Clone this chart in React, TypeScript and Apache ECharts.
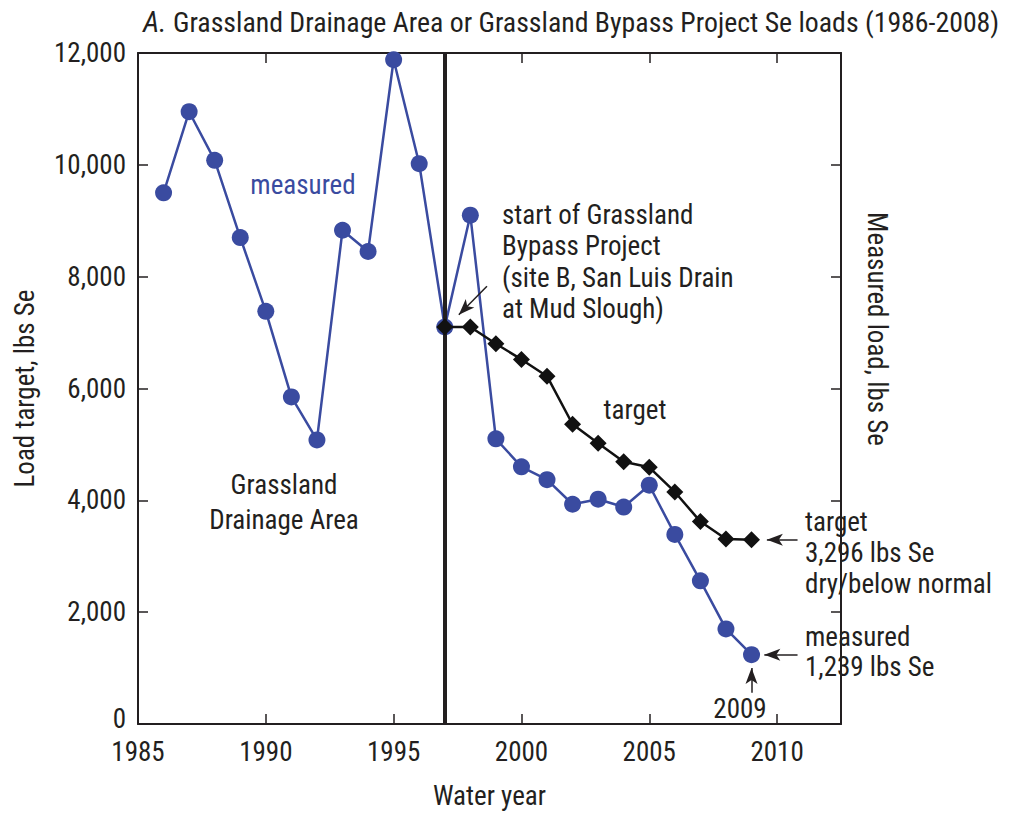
import React, { useEffect, useRef } from "react";
import * as echarts from "echarts";

const FONT = '"Liberation Sans Narrow", "Roboto Condensed", Roboto, sans-serif';
const BLUE = "#3a4ba0";
const INK = "#231f20";

const measuredYears = [1986, 1987, 1988, 1989, 1990, 1991, 1992, 1993, 1994, 1995, 1996, 1997, 1998, 1999, 2000, 2001, 2002, 2003, 2004, 2005, 2006, 2007, 2008, 2009];
const measuredLoads = [9500, 10950, 10080, 8700, 7380, 5850, 5080, 8830, 8450, 11880, 10020, 7100, 9100, 5100, 4600, 4370, 3930, 4020, 3880, 4270, 3390, 2560, 1700, 1239];
const targetYears = [1997, 1998, 1999, 2000, 2001, 2002, 2003, 2004, 2005, 2006, 2007, 2008, 2009];
const targetLoads = [7100, 7100, 6800, 6520, 6220, 5360, 5020, 4690, 4590, 4150, 3620, 3310, 3296];
const projectStartYear = 1997;

export default function App() {
  const ref = useRef<HTMLDivElement>(null);
  useEffect(() => {
    if (!ref.current) return;
    const chart = echarts.init(ref.current, null, { renderer: "svg" });
    const axisLine = () => ({ show: true, onZero: false, lineStyle: { color: INK, width: 2 } });
    const tick = () => ({ show: true, inside: true, length: 10, lineStyle: { color: INK, width: 1.5 } });
    const txt = (x: number, y: number, text: string, align: string, color = INK, lh = 31) => ({
      type: "text",
      x,
      y,
      style: { text, fill: color, font: `27px ${FONT}`, textAlign: align, textVerticalAlign: "top", lineHeight: lh },
    });
    const arrow = (a: number[], b: number[]) => [
      { coord: a, symbol: "none" },
      { coord: b, symbol: "arrow", symbolSize: [9, 16] },
    ];
    chart.setOption({
      animation: false,
      backgroundColor: "#ffffff",
      grid: { left: 138, right: 170, top: 53, bottom: 90 },
      xAxis: [
        {
          type: "value",
          position: "bottom",
          min: 1985,
          max: 2012.5,
          interval: 5,
          axisLine: axisLine(),
          axisTick: tick(),
          splitLine: { show: false },
          axisLabel: {
            fontFamily: FONT,
            fontSize: 27,
            color: INK,
            margin: 14,
            formatter: (v: number) => (v % 5 === 0 ? String(v) : ""),
          },
          name: "Water year",
          nameLocation: "middle",
          nameGap: 58,
          nameTextStyle: { fontFamily: FONT, fontSize: 27, color: INK },
        },
        {
          type: "value",
          position: "top",
          min: 1985,
          max: 2012.5,
          interval: 5,
          axisLine: axisLine(),
          axisTick: tick(),
          axisLabel: { show: false },
          splitLine: { show: false },
        },
      ],
      yAxis: [
        {
          type: "value",
          position: "left",
          min: 0,
          max: 12000,
          interval: 2000,
          axisLine: axisLine(),
          axisTick: tick(),
          splitLine: { show: false },
          axisLabel: {
            fontFamily: FONT,
            fontSize: 27,
            color: INK,
            margin: 12,
            formatter: (v: number) => (v === 0 ? "{z|0}" : v.toLocaleString("en-US")),
            rich: { z: { fontFamily: FONT, fontSize: 27, color: INK, padding: [0, 0, 10, 0] } },
          },
          name: "Load target, lbs Se",
          nameLocation: "middle",
          nameGap: 100,
          nameTextStyle: { fontFamily: FONT, fontSize: 27, color: INK },
        },
        {
          type: "value",
          position: "right",
          min: 0,
          max: 12000,
          interval: 2000,
          axisLine: axisLine(),
          axisTick: tick(),
          axisLabel: { show: false },
          splitLine: { show: false },
        },
      ],
      series: [
        {
          type: "line",
          name: "measured",
          z: 2,
          data: measuredYears.map((y, i) => [y, measuredLoads[i]]),
          symbol: "circle",
          symbolSize: 17,
          lineStyle: { color: BLUE, width: 2.5 },
          itemStyle: { color: BLUE },
        },
        {
          type: "line",
          name: "target",
          z: 4,
          data: targetYears.map((y, i) => [y, targetLoads[i]]),
          symbol: "diamond",
          symbolSize: 17,
          lineStyle: { color: "#111111", width: 2.5 },
          itemStyle: { color: "#111111" },
          markLine: {
            silent: true,
            z: 3,
            symbol: ["none", "none"],
            label: { show: false },
            lineStyle: { color: INK, width: 4, type: "solid" },
            data: [{ xAxis: projectStartYear }],
          },
        },
        {
          type: "line",
          name: "arrows",
          z: 5,
          data: [],
          markLine: {
            silent: true,
            symbol: ["none", "arrow"],
            label: { show: false },
            lineStyle: { color: INK, width: 1.5, type: "solid" },
            data: [
              arrow([1998.65, 7830], [1997.55, 7320]),
              arrow([2010.8, 3296], [2009.6, 3296]),
              arrow([2010.8, 1239], [2009.5, 1239]),
              arrow([2009, 560], [2009, 1000]),
            ],
          },
        },
      ],
      graphic: [
        {
          type: "text",
          x: 143,
          y: 22,
          style: {
            text: "{a|A.} Grassland Drainage Area or Grassland Bypass Project Se loads (1986-2008)",
            font: `27.8px ${FONT}`,
            fill: INK,
            textAlign: "left",
            textVerticalAlign: "middle",
            rich: { a: { fontFamily: FONT, fontSize: 29, fontStyle: "italic", fill: INK, color: INK } },
          },
        },
        txt(303, 169, "measured", "center", BLUE, 31),
        txt(284, 467, "Grassland\nDrainage Area", "center", INK, 35),
        txt(502, 199, "start of Grassland\nBypass Project\n(site B, San Luis Drain\nat Mud Slough)", "left", INK, 31.5),
        txt(635, 394, "target", "center"),
        txt(805, 506, "target\n3,296 lbs Se\ndry/below normal", "left", INK, 31),
        txt(805, 622, "measured\n1,239 lbs Se", "left", INK, 30),
        txt(740, 693, "2009", "center"),
        {
          type: "text",
          x: 877,
          y: 329,
          rotation: -Math.PI / 2,
          style: {
            text: "Measured load, lbs Se",
            fill: INK,
            font: `27px ${FONT}`,
            textAlign: "center",
            textVerticalAlign: "middle",
          },
        },
      ],
    });
    return () => chart.dispose();
  }, []);
  return <div ref={ref} style={{ position: "fixed", left: 0, top: 0, width: 1011, height: 814 }} />;
}
